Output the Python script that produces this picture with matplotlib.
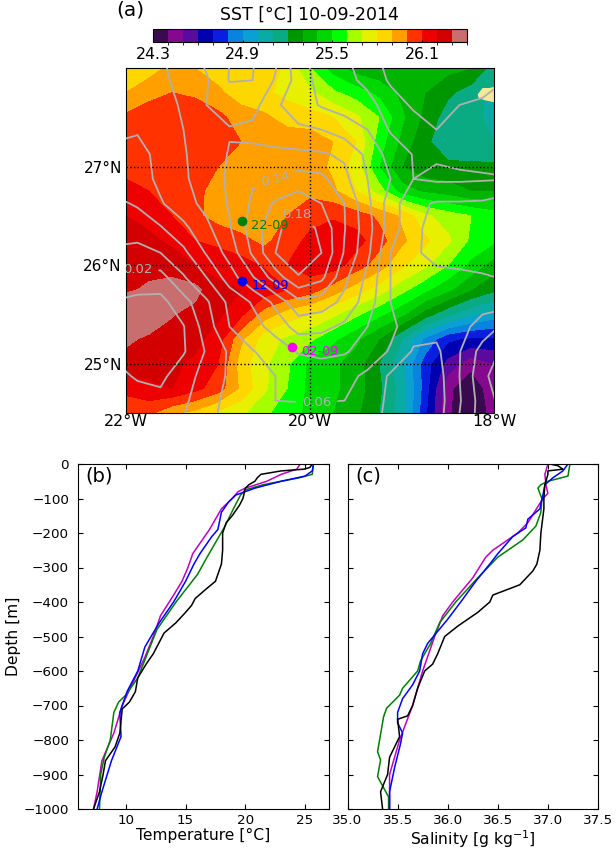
import numpy as np
import matplotlib
matplotlib.use("Agg")
import matplotlib.pyplot as plt
from matplotlib.colors import ListedColormap, BoundaryNorm

# SST field, south to north
sst_lon = np.arange(-22, -17.9, 0.25)
sst_lat = np.arange(24.5, 28.1, 0.25)
sst = np.array([
 [26.05,26.02,25.92,25.87,25.78,25.72,25.62,25.55,25.47,25.40,25.32,25.20,25.05,24.72,24.41,24.33,24.43],
 [26.12,26.18,26.20,26.13,26.05,25.88,25.72,25.60,25.47,25.42,25.35,25.22,25.05,24.75,24.42,24.33,24.46],
 [26.28,26.24,26.22,26.18,26.10,25.85,25.72,25.62,25.47,25.42,25.35,25.20,25.02,24.75,24.56,24.43,24.50],
 [26.31,26.29,26.27,26.23,26.15,25.92,25.75,25.68,25.62,25.52,25.42,25.30,25.10,24.88,24.72,24.68,24.68],
 [26.37,26.34,26.305,26.27,26.22,26.12,25.95,25.85,25.80,25.72,25.62,25.52,25.42,25.25,25.12,25.02,24.95],
 [26.29,26.31,26.35,26.33,26.22,26.20,26.16,26.10,26.04,25.95,25.85,25.75,25.63,25.52,25.42,25.30,25.22],
 [26.30,26.28,26.25,26.20,26.17,26.14,26.09,26.10,26.15,26.15,26.05,25.95,25.82,25.72,25.60,25.47,25.35],
 [26.25,26.22,26.18,26.10,26.07,26.03,25.97,26.06,26.12,26.15,26.14,26.04,25.92,25.82,25.72,25.58,25.52],
 [26.20,26.17,26.10,26.02,25.96,25.93,25.92,26.00,26.07,26.09,26.05,25.98,25.88,25.72,25.65,25.60,25.55],
 [26.12,26.10,26.08,26.02,25.97,25.95,25.95,25.95,25.97,25.92,25.80,25.65,25.45,25.38,25.35,25.30,25.30],
 [26.08,26.09,26.08,26.05,26.00,25.97,25.96,25.95,25.95,25.88,25.75,25.50,25.30,25.23,25.22,25.22,25.22],
 [26.05,26.08,26.09,26.09,26.07,26.00,25.96,25.96,25.96,25.90,25.80,25.55,25.37,25.22,25.14,25.12,25.10],
 [26.02,26.05,26.07,26.07,26.03,25.95,25.92,25.86,25.84,25.80,25.72,25.60,25.42,25.27,25.15,25.12,25.08],
 [25.90,25.97,26.00,25.98,25.92,25.85,25.82,25.77,25.72,25.62,25.55,25.47,25.37,25.30,25.22,25.15,25.07],
 [25.85,25.85,25.93,25.90,25.85,25.85,25.85,25.78,25.60,25.45,25.35,25.32,25.33,25.33,25.33,25.30,25.15],
])
sst_levels = np.arange(24.3, 26.41, 0.1)
sst_colors = ['#3a0a4e', '#85088f', '#5a0a9e', '#0000b0', '#0a1ee0', '#0a82e0', '#0aa0d2', '#0aaaa5', '#0aaa82',
              '#009600', '#00b400', '#00d700', '#00ff00', '#a5ff00', '#e6f000', '#ffd700', '#ffa000', '#ff3200',
              '#ee0000', '#d20000', '#c86e6e']

# sea surface height field, south to north
ssh_lon = np.arange(-22.125, -17.8, 0.25)
ssh_lat = np.arange(24.375, 28.2, 0.25)
ssh = np.array([
 [-.005,.000,.010,.022,.035,.048,.050,.052,.052,.052,.050,.045,.036,.028,.032,.062,.090,.105],
 [.010,.008,.006,.016,.033,.045,.050,.060,.0605,.0605,.060,.052,.035,.022,.030,.058,.090,.108],
 [.005,-.002,-.005,.012,.027,.043,.050,.060,.064,.068,.066,.056,.037,.021,.031,.060,.095,.115],
 [-.003,-.008,-.010,-.002,.022,.043,.059,.068,.082,.085,.082,.072,.058,.038,.036,.059,.088,.105],
 [-.006,-.010,-.012,-.001,.030,.060,.072,.088,.108,.105,.096,.080,.065,.048,.047,.053,.068,.085],
 [-.002,-.006,-.006,.012,.037,.065,.082,.105,.135,.130,.115,.090,.060,.045,.050,.050,.052,.050],
 [.025,.014,.012,.038,.060,.090,.118,.150,.178,.165,.125,.095,.060,.050,.045,.045,.043,.038],
 [.036,.033,.040,.055,.082,.108,.143,.180,.198,.180,.138,.105,.060,.043,.034,.030,.025,.030],
 [.050,.050,.058,.075,.095,.118,.150,.175,.193,.175,.141,.108,.070,.045,.032,.030,.025,.022],
 [.056,.062,.078,.092,.106,.122,.143,.163,.172,.160,.140,.105,.070,.045,.038,.038,.037,.030],
 [.070,.070,.085,.097,.110,.123,.138,.140,.148,.145,.125,.100,.080,.060,.063,.063,.062,.061],
 [.075,.073,.086,.098,.112,.121,.124,.124,.124,.122,.117,.095,.072,.059,.058,.055,.054,.052],
 [.085,.082,.088,.100,.110,.119,.115,.110,.103,.100,.090,.080,.058,.050,.040,.045,.050,.055],
 [.085,.083,.094,.102,.120,.127,.128,.103,.090,.078,.072,.067,.050,.037,.030,.040,.042,.044],
 [.086,.088,.096,.106,.118,.141,.140,.118,.092,.072,.066,.055,.037,.025,.030,.030,.035,.040],
 [.085,.088,.098,.110,.125,.140,.142,.124,.085,.072,.062,.050,.030,.018,.025,.020,.030,.040],
])
ssh_levels = np.arange(0.0, 0.19, 0.02)
ssh_label_pos = [(-21.88, 26.03), (-20.41, 26.94), (-20.13, 26.51), (-19.93, 24.62)]
ssh_label_rot = [0, 14, 0, 0]

# Argo float positions and profile dates
float_lon = [-20.74, -20.74, -20.2]
float_lat = [26.45, 25.84, 25.17]
float_date = ['22-09', '12-09', '02-09']
float_color = ['#007f00', '#0000ff', '#ff00ff']

island_lon = [-18.17, -18.12, -18.05, -18.0, -18.0, -18.1, -18.16]
island_lat = [27.73, 27.79, 27.79, 27.8, 27.66, 27.68, 27.7]

# profiles (depth, temperature)
t_black_z = [0,-10,-15,-20,-30,-40,-50,-60,-70,-100,-120,-150,-170,-200,-250,-290,-310,-340,-360,-390,-410,-430,-460,-490,-510,-550,-580,-620,-660,-690,-710,-780,-820,-860,-900,-950,-1000]
t_black = [25.6,25.4,24.9,23,21.3,21,20.8,20.3,20,19.8,19.5,18.9,18.4,18.1,18.1,18.0,17.8,17.5,16.8,15.8,15.5,15,14.2,13.2,12.9,12.3,11.7,11,10.8,10.3,9.7,9.5,9.1,8.3,8.1,7.8,7.3]
t_mag_z = [0,-15,-30,-50,-70,-80,-100,-130,-190,-220,-260,-300,-340,-380,-440,-500,-560,-640,-700,-780,-860,-950,-1000]
t_mag = [24.6,24.3,23,21.8,20,19.4,18.9,18,17,16.4,15.6,15.2,14.7,14,12.9,12.3,11.6,10.5,9.7,9,8,7.6,7.3]
t_blue_z = [0,-20,-35,-50,-70,-90,-110,-140,-190,-210,-260,-290,-340,-400,-460,-530,-600,-660,-720,-790,-860,-950,-1000]
t_blue = [25.7,25.6,25,23,20.8,19.2,18.6,18,17.7,17.2,16.2,15.7,15,14,12.8,11.6,11,10.1,9.5,9.6,8.8,8,7.6]
t_green_z = [0,-30,-40,-60,-75,-90,-130,-180,-240,-270,-320,-400,-480,-550,-620,-670,-690,-720,-800,-850,-900,-1000]
t_green = [25.7,25.6,24.5,21.5,20,19.6,19,18.3,17.3,16.8,16,14.2,12.6,11.8,11,10,9.4,9,8.7,8.2,7.9,7.8]

# profiles (depth, salinity)
s_black_z = [0,-5,-15,-20,-30,-60,-100,-130,-200,-250,-290,-310,-350,-380,-400,-430,-470,-500,-550,-580,-600,-650,-700,-730,-740,-790,-850,-900,-950,-1000]
s_black = [37.02,37.1,37.15,37.0,37.0,36.97,36.96,36.96,36.93,36.92,36.89,36.85,36.72,36.45,36.42,36.3,36.1,35.97,35.9,35.85,35.77,35.7,35.65,35.6,35.5,35.52,35.42,35.4,35.33,35.35]
s_mag_z = [0,-30,-60,-85,-100,-170,-200,-250,-270,-330,-400,-440,-500,-600,-700,-800,-900,-1000]
s_mag = [37,36.97,36.98,37,36.95,36.8,36.7,36.45,36.38,36.25,36.05,35.95,35.87,35.75,35.65,35.52,35.42,35.42]
s_blue_z = [0,-20,-40,-60,-90,-130,-160,-185,-210,-260,-290,-340,-400,-450,-520,-550,-600,-640,-680,-720,-750,-780,-810,-880,-950,-1000]
s_blue = [37.2,37.15,37.05,36.97,36.95,36.92,36.8,36.78,36.65,36.5,36.42,36.28,36.13,36,35.8,35.75,35.72,35.65,35.55,35.5,35.5,35.55,35.53,35.47,35.42,35.42]
s_green_z = [0,-35,-50,-60,-70,-100,-140,-180,-220,-250,-270,-330,-400,-460,-520,-570,-600,-650,-670,-708,-733,-834,-858,-906,-965,-1000]
s_green = [37.22,37.2,37.0,36.93,36.9,36.94,36.93,36.88,36.75,36.6,36.5,36.3,36.08,35.92,35.83,35.73,35.7,35.55,35.52,35.39,35.36,35.3,35.33,35.3,35.41,35.41]

W, H = 616, 852
plt.rcParams['font.size'] = 11
plt.rcParams['font.family'] = ['DejaVu Sans']
fig = plt.figure(figsize=(W / 100, H / 100), dpi=100)

def box(x0, y0, x1, y1):
    return [x0 / W, 1 - y1 / H, (x1 - x0) / W, (y1 - y0) / H]

ax = fig.add_axes(box(126, 68, 494, 413))
cmap = ListedColormap(sst_colors)
norm = BoundaryNorm(sst_levels, cmap.N)
cf = ax.contourf(sst_lon, sst_lat, sst, levels=sst_levels, cmap=cmap, norm=norm)
ax.fill(island_lon, island_lat, color='#f5e89a', zorder=2)

cs = ax.contour(ssh_lon, ssh_lat, ssh, levels=ssh_levels, colors='#b0b0b0', linewidths=1.3, zorder=3)
labels = ax.clabel(cs, fmt='%.2f', fontsize=9.5, inline=True, manual=ssh_label_pos)
for t, r in zip(labels, ssh_label_rot):
    t.set_rotation(r)

ax.set_xlim(-22, -18)
ax.set_ylim(24.5, 28)
ax.set_xticks([-22, -20, -18])
ax.set_xticklabels(['22°W', '20°W', '18°W'])
ax.set_yticks([25, 26, 27])
ax.set_yticklabels(['25°N', '26°N', '27°N'])
ax.tick_params(axis='x', length=0, pad=1, labelsize=11.5)
ax.tick_params(axis='y', length=0, pad=3, labelsize=11)
for v in [25, 26, 27]:
    ax.axhline(v, color='k', ls=':', lw=1, zorder=4)
ax.axvline(-20, color='k', ls=':', lw=1, zorder=4)

for lo, la, d, c in zip(float_lon, float_lat, float_date, float_color):
    ax.plot(lo, la, 'o', color=c, ms=6, zorder=5)
    ax.text(lo + 0.1, la - 0.05, d, color=c, fontsize=9.3, va='center', zorder=5)

cax = fig.add_axes(box(153, 29, 467, 42))
cb = fig.colorbar(cf, cax=cax, orientation='horizontal', ticks=[24.3, 24.9, 25.5, 26.1])
cb.ax.set_xticklabels(['24.3', '24.9', '25.5', '26.1'])
cb.ax.tick_params(direction='in', length=1.5, pad=3.5, labelsize=11.3)
fig.text(309 / W, 1 - 15 / H, 'SST [°C] 10-09-2014', ha='center', va='center', fontsize=12.5)
fig.text(116 / W, 1 - 10 / H, '(a)', fontsize=14.5, ha='left', va='center')

axb = fig.add_axes(box(78, 464, 329, 809))
axc = fig.add_axes(box(347.5, 464, 598, 809))
axb.plot(t_mag, t_mag_z, color='#c000c0', lw=1.1)
axb.plot(t_green, t_green_z, color='#007f00', lw=1.1)
axb.plot(t_blue, t_blue_z, color='#0000ff', lw=1.1)
axb.plot(t_black, t_black_z, color='k', lw=1.1)
axc.plot(s_mag, s_mag_z, color='#c000c0', lw=1.1)
axc.plot(s_green, s_green_z, color='#007f00', lw=1.1)
axc.plot(s_blue, s_blue_z, color='#0000ff', lw=1.1)
axc.plot(s_black, s_black_z, color='k', lw=1.1)

axb.set_xlim(6, 27)
axb.set_xticks([10, 15, 20, 25])
axb.set_xlabel('Temperature [°C]', labelpad=1, fontsize=11.2)
axb.set_ylabel('Depth [m]', labelpad=2, fontsize=11.2)
axc.set_xlim(35, 37.5)
axc.set_xticks([35, 35.5, 36, 36.5, 37, 37.5])
axc.set_xticklabels(['35.0', '35.5', '36.0', '36.5', '37.0', '37.5'])
axc.set_xlabel('Salinity [g kg$^{-1}$]', labelpad=1, fontsize=11.2)
for a in (axb, axc):
    a.set_ylim(-1000, 0)
    a.set_yticks(np.arange(-1000, 1, 100))
    a.tick_params(direction='in', top=True, right=True, length=3.5, labelsize=9.7)
    a.tick_params(axis='x', pad=3.5)
    a.tick_params(axis='y', pad=6.5)
axc.tick_params(labelleft=False)
axb.text(0.03, 0.965, '(b)', transform=axb.transAxes, fontsize=14, va='center')
axc.text(0.03, 0.965, '(c)', transform=axc.transAxes, fontsize=14, va='center')

fig.savefig('out.png', dpi=100)
